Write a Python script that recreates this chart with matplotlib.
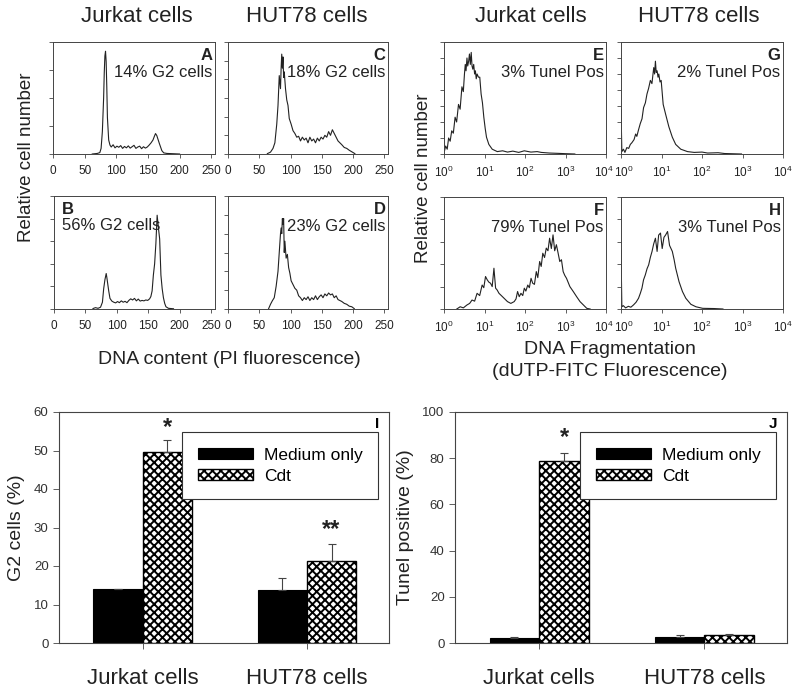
import matplotlib.pyplot as plt
import matplotlib.transforms as mtransforms
import numpy as np

plt.rcParams['font.family'] = ['Liberation Sans', 'DejaVu Sans']
plt.rcParams['mathtext.fontset'] = 'custom'
plt.rcParams['mathtext.rm'] = 'Liberation Sans'
plt.rcParams['hatch.linewidth'] = 1.4

# ---- cell cycle histograms (PI fluorescence) ----
A_x = [62, 66, 70, 74, 76, 78, 80, 81, 82, 83, 84, 85, 86, 88, 90, 92, 95, 98, 101, 104,
       107, 110, 113, 116, 119, 122, 125, 128, 131, 134, 137, 140, 143, 146, 149, 152, 155, 158, 160, 162,
       164, 166, 168, 170, 172, 175, 180, 200]
A_y = [0, 0.01, 0.02, 0.05, 0.2, 0.8, 2.0, 2.9, 3.5, 3.67, 3.3, 2.4, 1.3, 0.5, 0.32, 0.25, 0.33, 0.22, 0.28, 0.24,
       0.3, 0.2, 0.27, 0.22, 0.29, 0.21, 0.26, 0.31, 0.2, 0.25, 0.28, 0.19, 0.26, 0.21, 0.25, 0.32, 0.4, 0.5, 0.62, 0.73,
       0.66, 0.52, 0.38, 0.25, 0.12, 0.04, 0.02, 0]

B_x = [62, 66, 70, 74, 77, 79, 81, 83, 84, 85, 87, 89, 92, 95, 98, 101, 104, 107, 110, 113,
       116, 119, 122, 125, 128, 131, 134, 137, 140, 143, 146, 149, 152, 154, 156, 158, 160, 162, 164, 166,
       168, 170, 172, 174, 176, 178, 182, 190]
B_y = [0.02, 0.06, 0.03, 0.08, 0.3, 0.9, 1.3, 1.57, 1.4, 1.2, 0.8, 0.47, 0.35, 0.3, 0.27, 0.33, 0.28, 0.36, 0.3, 0.34,
       0.28, 0.38, 0.45, 0.4, 0.47, 0.36, 0.44, 0.35, 0.38, 0.36, 0.4, 0.38, 0.45, 0.55, 0.8, 1.5, 2.0, 2.9, 4.15, 3.6,
       3.1, 1.5, 0.9, 0.5, 0.25, 0.1, 0.03, 0.01]

C_x = [63, 68, 72, 75, 78, 80, 82, 84, 85, 86, 87, 88, 89, 90, 92, 94, 96, 98, 101, 104,
       107, 110, 113, 116, 119, 122, 125, 128, 131, 134, 137, 140, 143, 146, 149, 152, 155, 158, 161, 164,
       167, 170, 173, 176, 179, 182, 186, 190, 194, 198, 203]
C_y = [0.02, 0.1, 0.3, 0.6, 1.6, 2.6, 4.2, 3.5, 4.6, 5.35, 4.6, 5.2, 4.1, 4.4, 3.5, 2.9, 2.6, 1.9, 1.6, 1.25,
       1.1, 0.9, 0.95, 0.7, 0.9, 0.75, 0.85, 0.6, 0.9, 0.7, 0.8, 0.6, 0.85, 0.7, 0.9, 0.8, 1.0, 0.9, 1.2, 1.0,
       1.3, 1.1, 0.9, 0.7, 0.6, 0.5, 0.35, 0.3, 0.2, 0.12, 0.02]

D_x = [65, 68, 71, 74, 77, 80, 82, 84, 85, 86, 87, 88, 89, 90, 91, 93, 95, 97, 99, 101,
       104, 107, 110, 113, 116, 119, 122, 125, 128, 131, 134, 137, 140, 143, 146, 149, 152, 155, 158, 161,
       164, 167, 170, 173, 176, 179, 182, 186, 190, 194, 198, 202]
D_y = [0.02, 0.25, 0.44, 0.6, 1.2, 2.0, 3.0, 4.0, 4.3, 4.0, 4.8, 4.5, 4.8, 3.0, 3.6, 2.7, 2.9, 2.2, 1.9, 1.5,
       1.3, 1.1, 1.0, 0.7, 0.6, 0.45, 0.6, 0.5, 0.65, 0.45, 0.6, 0.5, 0.7, 0.5, 0.65, 0.75, 0.6, 0.8, 0.7, 0.85,
       0.75, 0.8, 0.6, 0.7, 0.5, 0.45, 0.4, 0.3, 0.25, 0.15, 0.12, 0.02]

# ---- TUNEL histograms (dUTP-FITC, log scale) ----
E_x = [1.0, 1.0, 1.03, 1.1, 1.2, 1.3, 1.42, 1.55, 1.7, 1.88, 2.05, 2.28, 2.5, 2.77, 3.0, 3.2, 3.35, 3.5, 3.69, 3.85,
       4.06, 4.25, 4.47, 4.7, 4.92, 5.15, 5.41, 5.7, 5.96, 6.25, 6.56, 7.1, 7.64, 8.25, 8.9, 9.62, 10.4, 11.2, 12.8, 15.5,
       20.7, 28, 37, 50, 70, 96, 140, 200, 251, 400, 660, 1000, 1700]
E_y = [0, 5.4, 0.2, 0.5, 0.3, 1.0, 0.8, 1.45, 1.3, 2.3, 2.0, 3.1, 2.8, 4.2, 3.9, 5.0, 5.6, 5.2, 6.0, 5.5,
       5.8, 6.25, 5.6, 6.35, 5.5, 5.3, 5.6, 5.0, 5.2, 4.7, 5.0, 4.8, 4.8, 3.75, 3.2, 2.3, 1.6, 1.05, 0.6, 0.3,
       0.15, 0.2, 0.12, 0.18, 0.1, 0.2, 0.12, 0.15, 0.1, 0.06, 0.04, 0.02, 0.0]

F_x = [2.07, 2.51, 3.0, 3.69, 4.3, 4.92, 5.7, 6.56, 7.6, 8.74, 9.6, 10.6, 11.7, 12.8, 14.1, 15.5, 17.1, 18.8, 20.5, 22.8,
       26, 30.4, 36.9, 44.7, 54.1, 60, 65.6, 72, 79.4, 88, 96.2, 105, 117, 128, 141, 155, 171, 190, 207, 230,
       251, 275, 304, 335, 369, 405, 447, 492, 541, 596, 656, 722, 794, 875, 960, 1059, 1283, 1555, 1884, 2282,
       2766, 3350, 4058]
F_y = [0.0, 0.1, 0.05, 0.18, 0.25, 0.4, 0.35, 0.7, 0.6, 1.07, 0.95, 1.45, 1.3, 1.2, 1.15, 1.0, 1.82, 0.93, 0.85, 0.7,
       0.6, 0.48, 0.33, 0.25, 0.33, 0.45, 0.78, 0.55, 0.7, 0.6, 0.93, 0.8, 1.07, 0.95, 1.37, 1.15, 1.1, 1.67, 1.4, 2.12,
       1.9, 2.49, 2.3, 2.72, 2.6, 3.16, 2.7, 3.31, 2.6, 2.87, 2.5, 2.12, 2.2, 1.67, 1.5, 1.37, 1.0, 0.78, 0.55, 0.33,
       0.18, 0.03, 0.0]

G_x = [1.0, 1.0, 1.05, 1.15, 1.25, 1.39, 1.55, 1.7, 1.85, 2.1, 2.3, 2.46, 2.7, 2.99, 3.3, 3.61, 4.0, 4.38, 4.8, 5.31,
       5.8, 6.43, 6.75, 7.08, 7.4, 7.79, 8.2, 8.58, 9.2, 9.81, 11.0, 12.6, 15.2, 18.5, 22.4, 29.9, 43.8, 64, 100, 138,
       250, 360, 944]
G_y = [0, 2.8, 0.15, 0.3, 0.1, 0.4, 0.35, 0.6, 0.7, 0.9, 1.25, 1.1, 1.5, 1.9, 2.2, 2.9, 3.2, 3.75, 4.1, 4.6,
       4.4, 5.4, 5.0, 5.8, 5.1, 5.2, 4.8, 5.0, 4.5, 4.6, 3.1, 2.5, 1.7, 1.05, 0.6, 0.3, 0.15, 0.1, 0.12, 0.06,
       0.08, 0.03, 0.0]

H_x = [1.0, 1.0, 1.05, 1.14, 1.3, 1.52, 1.75, 2.03, 2.35, 2.71, 3.0, 3.29, 3.6, 3.98, 4.4, 4.82, 5.3, 5.84, 6.4, 7.08,
       7.79, 8.5, 9.44, 10.4, 11.5, 12.6, 14.1, 15.8, 18.5, 20.5, 22.4, 27.1, 32.9, 39.8, 53.1, 70.8, 104, 200, 329]
H_y = [0, 2.64, 0.1, 0.15, 0.05, 0.12, 0.08, 0.18, 0.3, 0.48, 0.7, 0.93, 1.3, 1.52, 1.8, 1.97, 2.3, 2.57, 2.9, 3.16,
       2.57, 3.3, 3.39, 2.7, 3.2, 3.3, 3.46, 2.84, 2.57, 2.2, 1.82, 1.22, 0.78, 0.48, 0.21, 0.1, 0.03, 0.02, 0.0]

# ---- bar charts ----
groups = ['Jurkat cells', 'HUT78 cells']
series = ['Medium only', 'Cdt']
g2_medium = [13.9, 13.8]
g2_medium_err = [0.2, 3.2]
g2_cdt = [49.5, 21.3]
g2_cdt_err = [3.2, 4.3]
tunel_medium = [2.3, 2.4]
tunel_medium_err = [0.4, 1.2]
tunel_cdt = [78.8, 3.3]
tunel_cdt_err = [3.4, 0.7]

W, H = 800, 696
fig = plt.figure(figsize=(W/100, H/100), dpi=100)

def pos(l, r, t, b):
    # pixel box -> figure fraction
    return [l/W, 1-b/H, (r-l)/W, (b-t)/H]

SPC = '#444444'
tc = '#222222'

def nudge(label, dx):
    # shift a tick label sideways by dx pixels
    label.set_transform(label.get_transform() +
                        mtransforms.ScaledTranslation(dx/100, 0, fig.dpi_scale_trans))

def histo(box, x, y, ymax, letter, label, logx=False, letter_left=False):
    ax = fig.add_axes(pos(*box))
    ax.plot(x, y, color='#222222', lw=0.8)
    ax.set_ylim(0, ymax)
    ax.set_yticks(np.arange(0, ymax+1))
    ax.set_yticklabels([])
    if logx:
        ax.set_xscale('log')
        ax.set_xlim(1, 1e4)
        ax.set_xticks([1, 10, 100, 1000, 10000])
        ax.set_xticklabels(['$10^0$', '$10^1$', '$10^2$', '$10^3$', '$10^4$'])
        ax.tick_params(axis='x', which='minor', length=2.5, width=0.6, color=SPC)
        lsize = 8.5
    else:
        ax.set_xlim(0, 256)
        ax.set_xticks([0, 50, 100, 150, 200, 250])
        lsize = 8.5
    ax.tick_params(length=3, width=0.6, color=SPC, labelsize=lsize, labelcolor=tc, pad=5)
    for s in ax.spines.values():
        s.set_color(SPC)
        s.set_linewidth(0.7)
    if letter_left:
        ax.text(0.05, 0.95, letter, transform=ax.transAxes, ha='left', va='top',
                fontsize=12, fontweight='bold', color=tc)
        ax.text(0.05, 0.74, label, transform=ax.transAxes, ha='left', va='center',
                fontsize=12, color=tc)
    else:
        ax.text(0.985, 0.95, letter, transform=ax.transAxes, ha='right', va='top',
                fontsize=12, fontweight='bold', color=tc)
        ax.text(0.985, 0.73, label, transform=ax.transAxes, ha='right', va='center',
                fontsize=12, color=tc)
    return ax

histo((53, 215, 42, 154), A_x, A_y, 4, 'A', '14% G2 cells')
histo((54, 215, 196, 309), B_x, B_y, 5, 'B', '56% G2 cells', letter_left=True)
histo((228, 388, 42, 154), C_x, C_y, 6, 'C', '18% G2 cells')
histo((228, 388, 196, 309), D_x, D_y, 6, 'D', '23% G2 cells')
axE = histo((444, 606, 42, 154), E_x, E_y, 7, 'E', '3% Tunel Pos', logx=True)
axF = histo((444, 606, 197, 309), F_x, F_y, 5, 'F', '79% Tunel Pos', logx=True)
axG = histo((621, 783, 42, 154), G_x, G_y, 7, 'G', '2% Tunel Pos', logx=True)
axH = histo((621, 783, 197, 309), H_x, H_y, 5, 'H', '3% Tunel Pos', logx=True)
# the neighbouring 10^4 / 10^0 labels nearly touch, as in the original
for ax in (axE, axF):
    nudge(ax.get_xticklabels()[-1], -2.5)
for ax in (axG, axH):
    nudge(ax.get_xticklabels()[0], 2.5)

# column titles and axis captions
for xc, t in [(137, 'Jurkat cells'), (307, 'HUT78 cells'), (531, 'Jurkat cells'), (699, 'HUT78 cells')]:
    fig.text(xc/W, 1-16/H, t, ha='center', va='center', fontsize=16, color=tc)
fig.text(27/W, 1-157/H, 'Relative cell number', rotation=90, ha='center', va='center', fontsize=13.5, color=tc)
fig.text(424/W, 1-178/H, 'Relative cell number', rotation=90, ha='center', va='center', fontsize=13.5, color=tc)
fig.text(229/W, 1-360/H, 'DNA content (PI fluorescence)', ha='center', va='center', fontsize=14, color=tc)
fig.text(610/W, 1-350/H, 'DNA Fragmentation', ha='center', va='center', fontsize=14, color=tc)
fig.text(610/W, 1-371/H, '(dUTP-FITC Fluorescence)', ha='center', va='center', fontsize=14, color=tc)


def bars(box, med, med_err, cdt, cdt_err, ymax, ystep, ylabel, letter, stars):
    ax = fig.add_axes(pos(*box))
    xs = np.arange(len(groups))
    bw = 0.3
    ax.bar(xs - bw/2, med, bw, color='black', edgecolor='black', lw=0.8, label=series[0])
    ax.bar(xs + bw/2, cdt, bw, color='white', edgecolor='black', hatch='xxxx', lw=1.0, label=series[1])
    ax.errorbar(xs - bw/2, med, yerr=[np.zeros(len(med)), med_err], fmt='none',
                ecolor='#444444', elinewidth=0.8, capsize=3, capthick=0.8)
    ax.errorbar(xs + bw/2, cdt, yerr=[np.zeros(len(cdt)), cdt_err], fmt='none',
                ecolor='#444444', elinewidth=0.8, capsize=3, capthick=0.8)
    for i, (s, yv) in enumerate(stars):
        if s:
            ax.text(i + bw/2, yv, s, ha='center', va='center', fontsize=17,
                    fontweight='bold', color=tc)
    ax.set_xlim(-0.51, 1.5)
    ax.set_ylim(0, ymax)
    ax.set_yticks(np.arange(0, ymax + 1, ystep))
    ax.set_xticks(xs)
    ax.set_xticklabels(groups, fontsize=16, color=tc)
    ax.tick_params(axis='x', length=4, width=0.6, pad=14, color=SPC)
    ax.tick_params(axis='y', length=4, width=0.6, labelsize=9.5, labelcolor='#333333', color=SPC)
    ax.set_ylabel(ylabel, fontsize=14, color=tc, labelpad=6)
    for s in ax.spines.values():
        s.set_color(SPC)
        s.set_linewidth(0.8)
    ax.text(0.97, 0.95, letter, transform=ax.transAxes, ha='right', va='center',
            fontsize=11, fontweight='bold')
    leg = ax.legend(loc='upper right', bbox_to_anchor=(0.967, 0.913), fontsize=12.5,
                    fancybox=False, edgecolor='#333333', framealpha=1, borderpad=0.9,
                    handlelength=3.2, handleheight=0.6, handletextpad=0.6, labelspacing=0.35,
                    borderaxespad=0)
    leg.get_frame().set_linewidth(0.8)
    return ax

bars((59, 389, 412, 643), g2_medium, g2_medium_err, g2_cdt, g2_cdt_err, 60, 10,
     'G2 cells (%)', 'I', [('*', 56.0), ('**', 29.5)])
bars((455, 787, 412, 643), tunel_medium, tunel_medium_err, tunel_cdt, tunel_cdt_err, 100, 20,
     'Tunel positive (%)', 'J', [('*', 89.0), ('', 0)])

fig.savefig('out.png', dpi=100)
